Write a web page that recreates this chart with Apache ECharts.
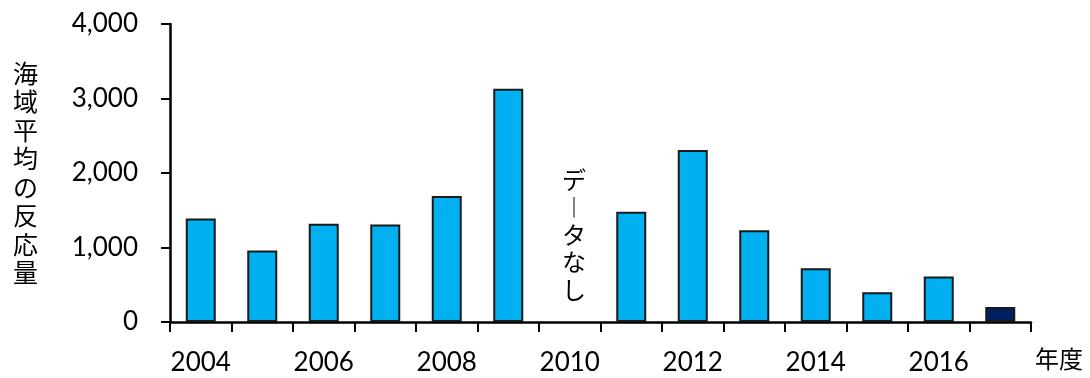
<!DOCTYPE html>
<html>
<head>
<meta charset="utf-8">
<script src="https://cdn.jsdelivr.net/npm/echarts@6/dist/echarts.min.js"></script>
<style>
  html, body { margin: 0; padding: 0; background: #fff; }
  #chart { width: 1090px; height: 378px; }
</style>
</head>
<body>
<div id="chart"></div>
<script>
  // 年度と海域平均の反応量（2010年はデータなし）
  var years = ['2004', '2005', '2006', '2007', '2008', '2009', '2010', '2011', '2012', '2013', '2014', '2015', '2016', '2017'];
  var values = [1390, 960, 1320, 1310, 1690, 3130, null, 1480, 2310, 1230, 720, 400, 610, 200];
  var latestYear = '2017';
  var yTicks = [0, 1000, 2000, 3000, 4000];

  var numFont = 'Lato, "Open Sans", sans-serif';
  var jpFont = '"Noto Sans CJK JP", sans-serif';

  var barData = values.map(function (v, i) {
    if (v === null) return '-';
    return {
      value: v,
      itemStyle: { color: years[i] === latestYear ? '#002060' : '#00B0F0' }
    };
  });

  var myChart = echarts.init(document.getElementById('chart'));
  myChart.setOption({
    animation: false,
    grid: { left: 170, right: 59, top: 24, bottom: 56 },
    xAxis: {
      type: 'category',
      data: years,
      axisLine: { lineStyle: { color: '#000', width: 2.5 } },
      axisTick: { show: true, interval: 0, length: 10, lineStyle: { color: '#000', width: 2 } },
      axisLabel: { interval: 1, margin: 28, color: '#000', fontSize: 26, fontFamily: numFont }
    },
    yAxis: {
      type: 'value',
      min: yTicks[0],
      max: yTicks[yTicks.length - 1],
      interval: 1000,
      name: '海域平均の反応量'.split('').join('\n'),
      nameLocation: 'middle',
      nameRotate: 0,
      nameGap: 132,
      nameTextStyle: { color: '#000', fontSize: 25, lineHeight: 28.5, fontFamily: jpFont },
      axisLine: { show: true, lineStyle: { color: '#000', width: 2.5 } },
      axisTick: { show: true, length: 9, lineStyle: { color: '#000', width: 2 } },
      axisLabel: {
        margin: 32, color: '#000', fontSize: 26, fontFamily: numFont,
        formatter: function (v) { return v.toLocaleString('en-US'); }
      },
      splitLine: { show: false }
    },
    series: [{
      type: 'bar',
      data: barData,
      barWidth: 30,
      itemStyle: { borderColor: '#1a1a1a', borderWidth: 2 }
    }],
    graphic: [
      {
        type: 'text',
        left: 562,
        top: 166,
        style: {
          text: 'デ\n︱\nタ\nな\nし',
          fontSize: 24,
          lineHeight: 27.5,
          fontFamily: jpFont,
          fill: '#000',
          align: 'center'
        }
      },
      {
        type: 'text',
        left: 1035,
        top: 347,
        style: { text: '年度', fontSize: 24, fontFamily: jpFont, fill: '#000' }
      }
    ]
  });
</script>
</body>
</html>
